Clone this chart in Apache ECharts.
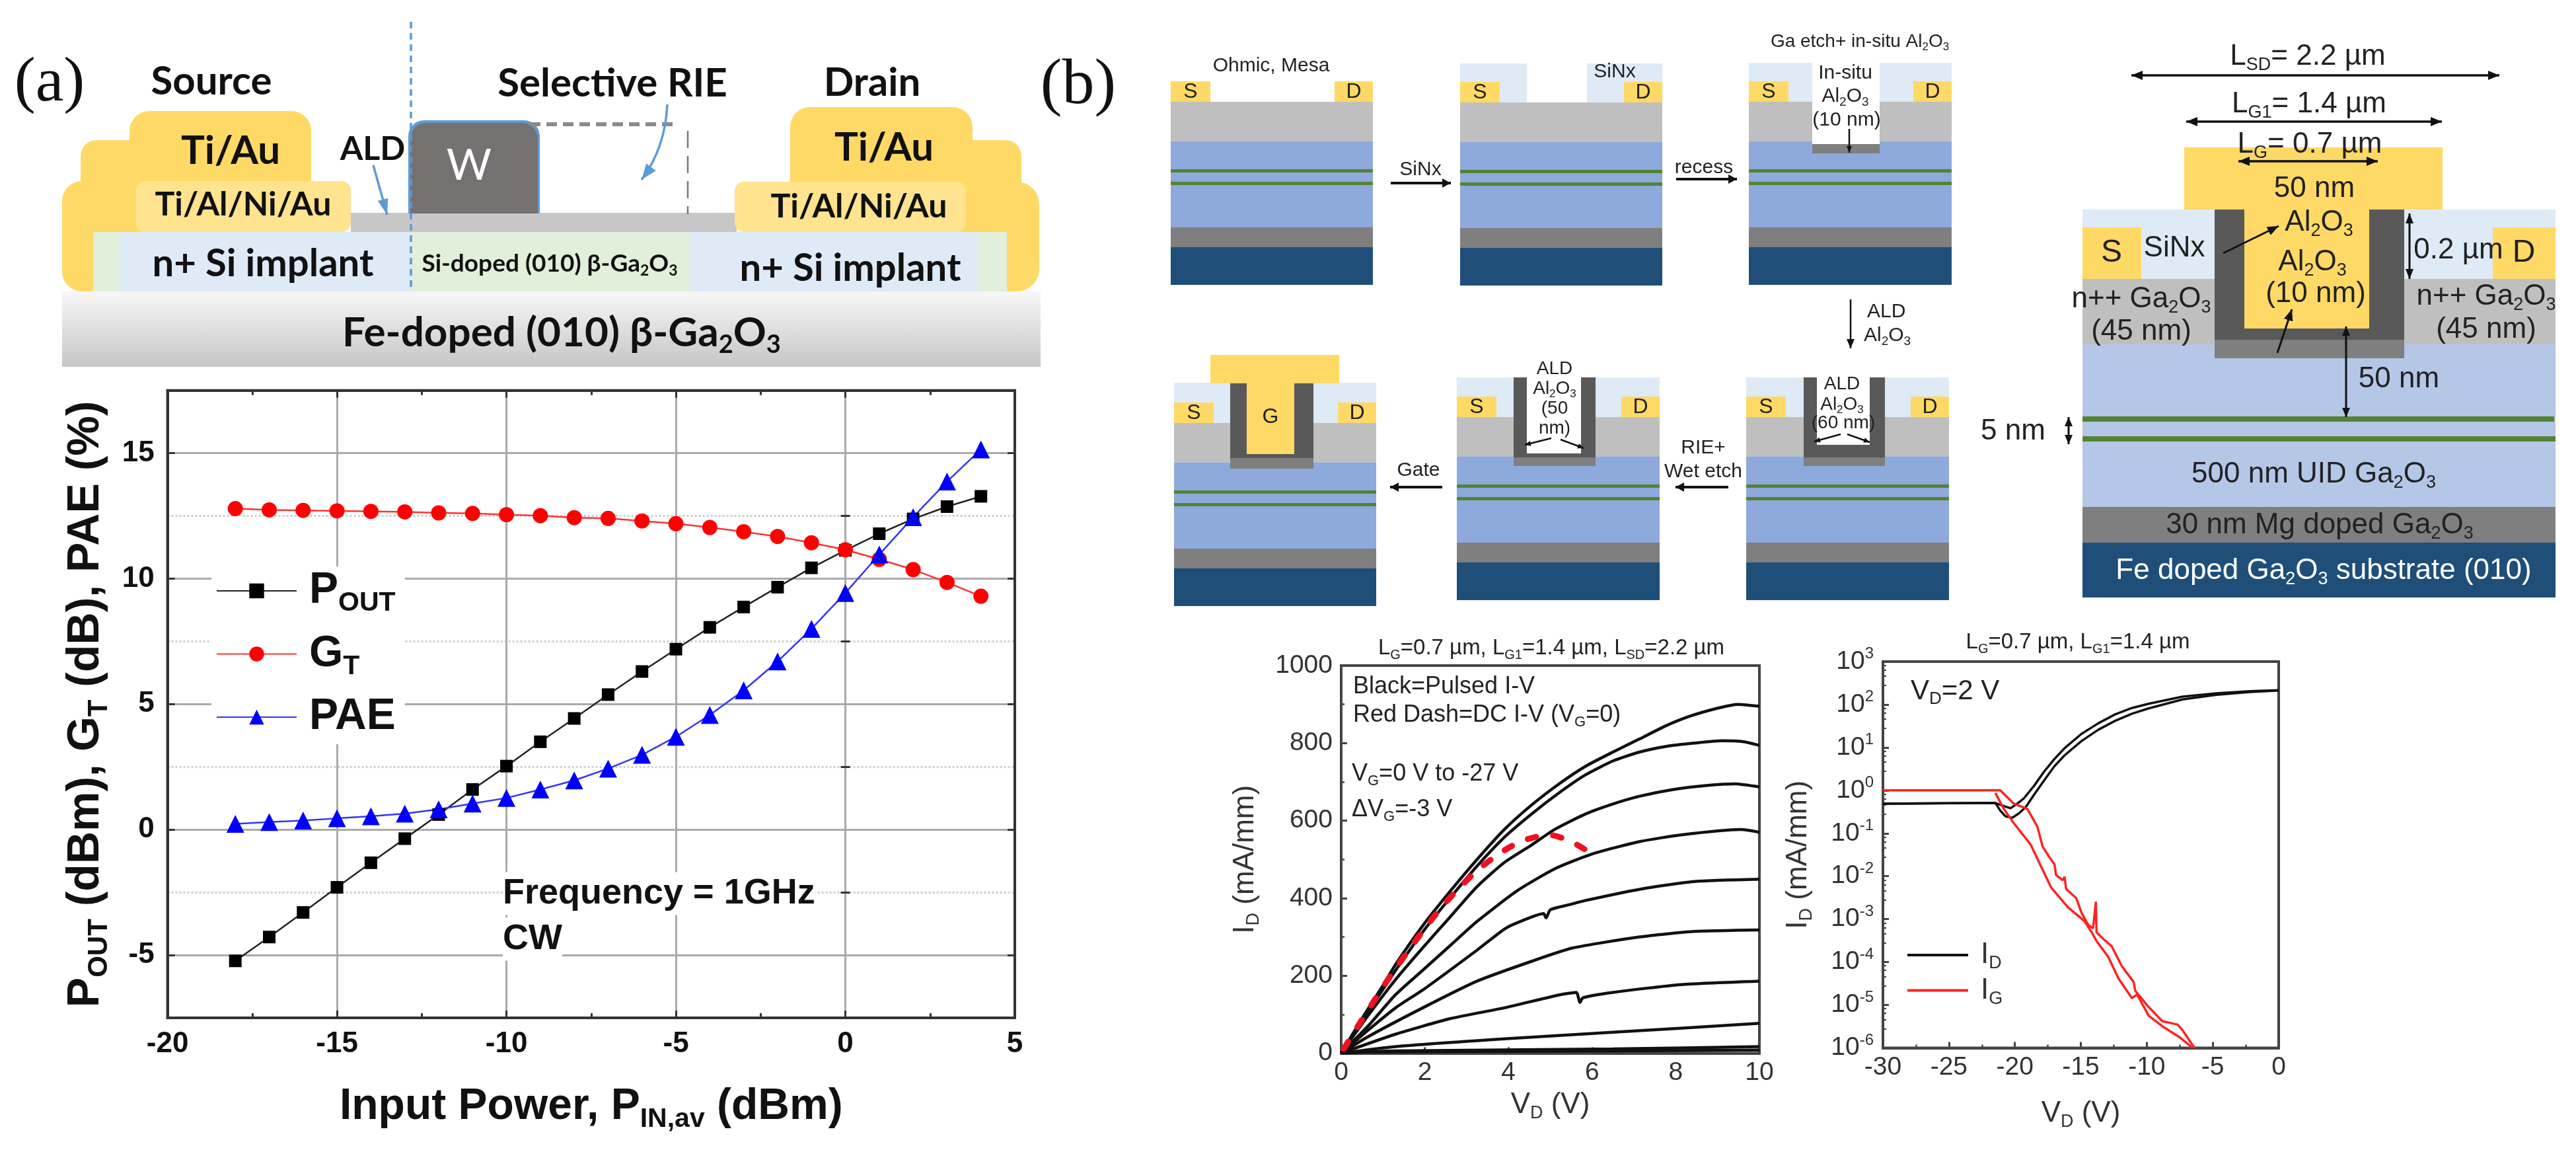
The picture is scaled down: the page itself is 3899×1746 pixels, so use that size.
<!DOCTYPE html>
<html><head><meta charset="utf-8">
<style>html,body{margin:0;padding:0;background:#fff}#c{width:3899px;height:1746px}</style>
<script src="https://cdn.jsdelivr.net/npm/echarts@6/dist/echarts.min.js"></script>
</head><body><div id="c"></div>
<script>
// ---- panel (a) power sweep ----
const pIn  = [-18,-17,-16,-15,-14,-13,-12,-11,-10,-9,-8,-7,-6,-5,-4,-3,-2,-1,0,1,2,3,4];
const pOut = [-5.23,-4.28,-3.3,-2.3,-1.32,-0.36,0.6,1.6,2.53,3.5,4.43,5.38,6.3,7.19,8.06,8.87,9.66,10.43,11.13,11.79,12.38,12.87,13.28];
const gT   = [12.79,12.74,12.72,12.7,12.68,12.66,12.62,12.6,12.55,12.51,12.43,12.4,12.3,12.19,12.04,11.87,11.68,11.43,11.15,10.77,10.36,9.85,9.3];
const pae  = [0.23,0.3,0.36,0.45,0.53,0.64,0.81,1.04,1.26,1.6,1.96,2.43,2.98,3.7,4.57,5.55,6.7,8.0,9.43,10.96,12.45,13.87,15.15];
const majorTicksA = [-5,0,5,10,15];
const minorTicksA = [-2.5,2.5,7.5,12.5];

// ---- panel (b) output curves [VD, ID] ----
const vg0  = [[0,0],[0.5,90],[1,175],[1.3,229],[1.95,329],[2.6,417],[3.25,500],[3.9,577],[4.55,640],[5.2,694],[5.84,740],[6.5,777],[7.14,811],[7.73,843],[8.3,868],[9,890],[9.5,900],[10,895]];
const vg3  = [[0,0],[0.5,84],[1,165],[1.36,223],[2,320],[2.6,400],[3.25,483],[3.9,557],[4.55,617],[5.2,671],[5.84,718],[6.5,754],[7.14,777],[7.8,792],[8.44,800],[9.1,806],[9.6,804],[10,794]];
const vg6  = [[0,0],[0.65,98],[1.3,190],[1.95,272],[2.6,351],[3.25,430],[3.9,492],[4.55,537],[5.1,577],[5.84,617],[6.5,643],[7.14,663],[7.92,680],[8.77,691],[9.42,695],[10,687]];
const vg9  = [[0,0],[0.65,71],[1.3,151],[1.95,214],[2.6,277],[3.25,340],[4.22,420],[5.13,477],[6,514],[7.14,546],[8.12,563],[9.55,577],[10,570]];
const vg12 = [[0,0],[0.65,60],[1.3,117],[1.95,163],[2.6,214],[3.25,266],[3.9,320],[4.22,337],[4.84,360],[4.9,349],[5,370],[5.45,383],[5.84,394],[7.14,423],[8.44,443],[10,449]];
const vg15 = [[0,0],[0.65,43],[1.95,117],[3.25,186],[4.55,237],[5.52,271],[7.14,300],[8.44,314],[10,318]];
const vg18 = [[0,0],[1.3,49],[2.6,89],[3.9,117],[5.2,150],[5.62,157],[5.71,131],[5.78,143],[6.5,157],[8.12,177],[10,186]];
const vg21 = [[0,0],[1.3,17],[3.9,37],[6.5,54],[10,77]];
const vg24 = [[0,0],[1.3,6],[6.5,11],[10,17]];
const vg27 = [[0,0],[0.5,3],[5,5],[10,8]];
const outputCurves = [vg0,vg3,vg6,vg9,vg12,vg15,vg18,vg21,vg24,vg27];
const dcVg0 = [[0.06,11],[0.36,63],[0.68,117],[1,171],[1.35,226],[1.69,277],[2.05,329],[2.42,379],[2.82,426],[3.25,471],[3.77,514],[4.32,547],[4.97,563],[5.49,546],[6,514]];

// ---- panel (b) transfer curves [VG, I] ----
const idFwd = [[-30,0.49],[-21.48,0.51],[-20.97,0.447],[-20.33,0.384],[-19.82,0.49],[-19.31,0.655],[-18.54,1.28],[-17.78,2.75],[-17,5.38],[-16.24,9.55],[-14.96,20.6],[-13.68,36.5],[-12.4,58.9],[-11.13,83],[-9.85,104.5],[-7.29,153],[-4.73,182],[-2.17,204],[0,216]];
const idRev = [[-30,0.49],[-21.48,0.51],[-21.1,0.335],[-20.72,0.25],[-20.2,0.229],[-19.69,0.293],[-19.18,0.406],[-18.54,0.794],[-17.78,1.71],[-17,3.66],[-16.24,6.5],[-14.96,14],[-13.68,25.8],[-12.4,41.7],[-11.13,61],[-9.85,81.4],[-7.29,131.5],[-4.73,169],[-2.17,196],[0,212]];
const igFwd = [[-30,1],[-21.48,1],[-21.1,1],[-20.08,0.49],[-19.05,0.37],[-18.29,0.142],[-17.9,0.0495],[-17.39,0.0279],[-17,0.019],[-16.88,0.0107],[-16.37,0.00804],[-16.24,0.00977],[-16.11,0.005],[-15.35,0.0031],[-14.96,0.00144],[-14.45,0.00074],[-14.07,0.00061],[-13.86,0.00255],[-13.81,0.0005],[-13.43,0.000376],[-12.66,0.000233],[-11.9,0.0000813],[-11,0.0000345],[-10.87,0.0000213],[-9.85,0.0000089],[-8.82,0.0000042],[-7.67,0.0000035],[-7.29,0.0000026],[-6.39,0.000001]];
const igRev = [[-21.48,0.875],[-20.84,0.37],[-20.08,0.172],[-18.8,0.0545],[-18.03,0.0173],[-17.26,0.0055],[-15.98,0.0019],[-14.71,0.00089],[-14.19,0.0005],[-13.81,0.00031],[-12.92,0.000132],[-12.15,0.0000417],[-11.13,0.0000145],[-10.74,0.0000176],[-9.85,0.0000056],[-8.82,0.0000032],[-7.54,0.0000018],[-6.52,0.000001]];

// ---- drawing helpers for the schematic parts ----
const SANS='"Liberation Sans",Arial,sans-serif', CAL='Lato,"Open Sans",sans-serif', SERIF='"Liberation Serif",serif';
const GOLD='#FFD966', PALE='#FFE38F', SINX='#DEEAF6', GREY='#BFBFBF', BLUE='#8EA9DB', LBLUE='#B4C7E7', GREEN='#548235', MID='#7F7F7F', NAVY='#1F4E79', DARK='#595959';
const G=[];
function rect(x0,y0,x1,y1,fill,r,z){G.push({type:'rect',z:z||10,shape:{x:x0,y:y0,width:x1-x0,height:y1-y0,r:r||0},style:{fill}});}
function richOf(str,size,o){
  o=o||{};
  const parts=str.split('~');let t='';
  parts.forEach((p,i)=>{if(p!=='')t+='{'+(i%2?'s':'n')+'|'+p+'}';});
  const base={fontFamily:o.family||SANS,fontWeight:o.weight||'normal',fill:o.color||'#222'};
  return {text:t,rich:{
    n:{...base,fontSize:size,lineHeight:Math.round(size*1.2)},
    s:{...base,fontSize:Math.round(size*0.62),lineHeight:Math.round(size*0.62),verticalAlign:'bottom'}}};
}
function tx(x,y,str,size,o){
  o=o||{};const r=richOf(str,size,o);
  const style={x,y,text:r.text,rich:r.rich,align:o.align||'center',verticalAlign:'middle',fill:o.color||'#222'};
  if(o.bg){style.backgroundColor=o.bg;}
  G.push({type:'text',z:o.z||30,style});
}
function line(x0,y0,x1,y1,color,w,dash){G.push({type:'line',z:20,shape:{x1:x0,y1:y0,x2:x1,y2:y1},style:{stroke:color,lineWidth:w,lineDash:dash||null}});}
function head(x,y,ang,color,len,wid){
  const c=Math.cos(ang),s=Math.sin(ang);
  G.push({type:'polygon',z:21,shape:{points:[[x,y],[x-len*c-wid*s,y-len*s+wid*c],[x-len*c+wid*s,y-len*s-wid*c]]},style:{fill:color}});
}
function arrow(x0,y0,x1,y1,o){
  o=o||{};const color=o.color||'#111',w=o.w||3,len=o.len||13,wid=o.wid||6;
  line(x0,y0,x1,y1,color,w);
  const a=Math.atan2(y1-y0,x1-x0);
  head(x1,y1,a,color,len,wid);
  if(o.both)head(x0,y0,a+Math.PI,color,len,wid);
}
function stack(x0,x1,y0){
  rect(x0,y0,x1,y0+59.5,GREY);
  rect(x0,y0+59.5,x1,y0+190,BLUE);
  rect(x0,y0+102,x1,y0+107,GREEN);
  rect(x0,y0+121,x1,y0+126,GREEN);
  rect(x0,y0+190,x1,y0+220,MID);
  rect(x0,y0+220,x1,y0+277,NAVY);
}
function sd(x0,x1,y0){
  rect(x0,y0-31,x0+60,y0,GOLD);rect(x1-58,y0-31,x1,y0,GOLD);
  tx(x0+30,y0-15,'S',32);tx(x1-29,y0-15,'D',32);
}

// (a) device cross-section
tx(75,127,'(a)',96,{family:SERIF,color:'#111'});
tx(1632,130,'(b)',98,{family:SERIF,color:'#111'});
const B={family:CAL,weight:'bold',color:'#111'};
rect(196,168,471,290,GOLD,[30,30,0,0]);
rect(122,212,260,290,GOLD,[24,0,0,0]);
rect(94,274,230,441,GOLD,[30,0,0,30]);
rect(1196,162,1472,290,GOLD,[30,30,0,0]);
rect(1400,212,1546,290,GOLD,[0,24,0,0]);
rect(1440,275,1573,441,GOLD,[0,34,34,0]);
rect(531,322,1115,351,'#C9C6C7');
rect(206,274,531,351,PALE,14);
rect(1112,275,1462,351,PALE,14);
rect(141,351,1524,441,'#E2EFDA');
rect(182,351,622,441,SINX);
rect(1045,351,1481,441,SINX);
G.push({type:'rect',z:10,shape:{x:94,y:441,width:1481,height:114},style:{fill:{type:'linear',x:0,y:0,x2:0,y2:1,colorStops:[{offset:0,color:'#f7f7f7'},{offset:1,color:'#c6c6c6'}]}}});
rect(618,182,817,323,'#5B9BD5',[24,24,0,0],11);
rect(621,186,814,323,'#767171',[24,24,0,0],12);
tx(710,251,'W',66,{family:CAL,color:'#fff'});
line(802,188,1024,188,'#8a8a8a',6,[16,9]);
line(1041,198,1041,324,'#777',2.5,[26,12]);
line(622,33,622,441,'#5B9BD5',3.5,[10,7]);
tx(320,124,'Source',60,B);tx(927,127,'Selective RIE',60,B);tx(1320,126,'Drain',60,B);
tx(349,229,'Ti/Au',60,B);tx(1338,224,'Ti/Au',60,B);
tx(368,310,'Ti/Al/Ni/Au',50,B);tx(1300,313,'Ti/Al/Ni/Au',50,B);
tx(398,399,'n+ Si implant',58,B);tx(1287,406,'n+ Si implant',58,B);
tx(832,399,'Si-doped (010) β-Ga~2~O~3~',37,B);
tx(850,504,'Fe-doped (010) β-Ga~2~O~3~',62,B);
tx(564,226,'ALD',50,B);
arrow(565,250,586,325,{color:'#5B9BD5',w:3.5,len:24,wid:8});
G.push({type:'bezierCurve',z:20,shape:{x1:1010,y1:158,x2:971,y2:272,cpx1:1008,cpy1:200,cpx2:995,cpy2:240},style:{stroke:'#5B9BD5',lineWidth:3.5,fill:'none'}});
head(971,272,Math.atan2(32,-24),'#5B9BD5',24,9);

// (b) process flow, row 1
stack(1772,2078,154);sd(1772,2078,154);
tx(1924,100,'Ohmic, Mesa',30);
stack(2210,2516,155);
rect(2210,96,2311,155,SINX);rect(2402,96,2516,155,SINX);sd(2210,2516,155);
tx(2444,109,'SiNx',30);
stack(2647,2954,154);
rect(2647,95,2743,154,SINX);rect(2845,95,2954,154,SINX);
rect(2743,154,2845,218,'#fff');rect(2743,218,2845,232,MID);sd(2647,2954,154);
tx(2793,111,'In-situ',30);tx(2793,146,'Al~2~O~3~',30);tx(2795,182,'(10 nm)',30);
arrow(2799,195,2799,231,{w:2.5,len:10,wid:4});
tx(2815,63,'Ga etch+ in-situ Al~2~O~3~',28);
arrow(2105,277,2196,277,{w:4,wid:7});tx(2150,257,'SiNx',30);
arrow(2537,271,2629,271,{w:4,wid:7});tx(2579,254,'recess',30);
arrow(2801,453,2801,527,{w:2.5,len:14,wid:6});
tx(2826,472,'ALD',30,{align:'left'});tx(2821,508,'Al~2~O~3~',30,{align:'left'});

// (b) process flow, row 2
stack(1777,2083,640);
rect(1777,579,2083,640,SINX);sd(1777,2083,640);
rect(1862,580,1988,693,DARK);rect(1862,693,1988,709,MID);
rect(1832,537,2027,580,GOLD);rect(1887,580,1959,687,GOLD);
tx(1923,631,'G',32);
arrow(2183,737,2104,737,{w:4,wid:7});tx(2147,712,'Gate',30);
stack(2205,2512,631);
rect(2205,571,2512,631,SINX);sd(2205,2512,631);
rect(2291,571,2415,692,DARK);rect(2291,692,2415,705,MID);rect(2311,571,2393,686,'#fff');
tx(2353,558,'ALD',28);tx(2353,588,'Al~2~O~3~',28);tx(2353,618,'(50',28);tx(2353,648,'nm)',28);
arrow(2348,663,2308,673,{w:2.5,len:9,wid:4});arrow(2362,665,2397,678,{w:2.5,len:9,wid:4});
tx(2578,678,'RIE+',30);tx(2578,714,'Wet etch',30);
arrow(2616,737,2536,737,{w:4,wid:7});
stack(2643,2950,631);
rect(2643,571,2950,631,SINX);sd(2643,2950,631);
rect(2730,571,2853,692,DARK);rect(2730,692,2853,705,MID);rect(2750,571,2830,673,'#fff');
tx(2788,581,'ALD',28);tx(2788,612,'Al~2~O~3~',28);tx(2790,640,'(60 nm)',28);
arrow(2786,657,2746,668,{w:2.5,len:9,wid:4});arrow(2796,657,2830,669,{w:2.5,len:9,wid:4});

// (b) large device
rect(3152,317,3868,422,SINX);
rect(3152,344,3241,422,GOLD);rect(3773,344,3868,422,GOLD);
rect(3152,422,3868,521,GREY);
rect(3152,521,3868,767,LBLUE);
rect(3152,630,3866,638,GREEN);rect(3152,660,3868,668,GREEN);
rect(3152,767,3868,821,MID);
rect(3152,821,3868,904,NAVY);
rect(3352,317,3639,514,DARK);rect(3352,514,3639,542,MID);
rect(3306,223,3697,317,GOLD);rect(3397,317,3586,497,GOLD);
const F=44;
tx(3493,86,'L~SD~= 2.2 µm',F);arrow(3226,114,3783,114,{both:1,w:3.5,len:17,wid:7});
tx(3495,158,'L~G1~= 1.4 µm',F);arrow(3309,184,3696,184,{both:1,w:3.5,len:17,wid:7});
tx(3496,219,'L~G~= 0.7 µm',F);arrow(3388,244,3599,244,{both:1,w:3.5,len:17,wid:7});
tx(3503,286,'50 nm',F);tx(3510,337,'Al~2~O~3~',F);tx(3500,397,'Al~2~O~3~',F);tx(3505,445,'(10 nm)',F);
tx(3291,376,'SiNx',F);tx(3196,383,'S',F+4);tx(3820,383,'D',F+4);
tx(3721,379,'0.2 µm',F);arrow(3647,323,3647,422,{both:1,w:3,len:15,wid:6});
tx(3241,453,'n++ Ga~2~O~3~',F);tx(3241,502,'(45 nm)',F);tx(3763,449,'n++ Ga~2~O~3~',F);tx(3763,499,'(45 nm)',F);
arrow(3365,383,3449,342,{w:3,len:17,wid:7});arrow(3447,534,3469,468,{w:3,len:17,wid:7});
arrow(3551,494,3551,631,{both:1,w:3,len:14,wid:6});tx(3631,574,'50 nm',F);
tx(3047,653,'5 nm',F);arrow(3131,631,3131,672,{both:1,w:3,len:14,wid:6});
tx(3502,718,'500 nm UID Ga~2~O~3~',F);tx(3511,795,'30 nm Mg doped Ga~2~O~3~',F);
tx(3517,864,'Fe doped Ga~2~O~3~ substrate (010)',F,{color:'#fff'});

// plot annotations
tx(761,1352,'Frequency = 1GHz',54,{align:'left',weight:'bold',color:'#111',bg:'#fff'});
tx(761,1421,'CW',54,{align:'left',weight:'bold',color:'#111',bg:'#fff'});
tx(2348,981,'L~G~=0.7 µm, L~G1~=1.4 µm, L~SD~=2.2 µm',33);
tx(2048,1039,'Black=Pulsed I-V',36,{align:'left'});
tx(2048,1082,'Red Dash=DC I-V (V~G~=0)',36,{align:'left'});
tx(2046,1171,'V~G~=0 V to -27 V',36,{align:'left'});
tx(2046,1225,'ΔV~G~=-3 V',36,{align:'left'});
tx(3145,972,'L~G~=0.7 µm, L~G1~=1.4 µm',33);
tx(2892,1046,'V~D~=2 V',42,{align:'left'});

// ---- chart ----
function nameRich(size,weight,color){
  return {n:{fontSize:size,fontWeight:weight,fontFamily:SANS,color,lineHeight:Math.round(size*1.2)},
          s:{fontSize:Math.round(size*0.62),fontWeight:weight,fontFamily:SANS,color,lineHeight:Math.round(size*0.62),verticalAlign:'bottom'},
          g:{width:14}};
}
const supRich={b:{fontSize:39,fontFamily:SANS,color:'#333',lineHeight:47},sup:{fontSize:24,fontFamily:SANS,color:'#333',lineHeight:24,verticalAlign:'top'}};
const gridA={left:253.6,top:590.7,width:1282.4,height:949.3,show:true,borderColor:'#333',borderWidth:4};
const gridB={left:2030,top:1007,width:633,height:586.5,show:true,borderColor:'#444',borderWidth:4};
const gridC={left:2850,top:1001,width:599,height:584.5,show:true,borderColor:'#444',borderWidth:4};
const axA={onZero:false,lineStyle:{color:'#333',width:4}};
const axB={onZero:false,lineStyle:{color:'#444',width:4}};
const lblA={color:'#111',fontSize:44,fontWeight:'bold',fontFamily:SANS};
const lblB={color:'#333',fontSize:39,fontFamily:SANS};
const tickA={inside:true,length:11,lineStyle:{color:'#333',width:3}};
const minorA={show:true,splitNumber:2,length:7,lineStyle:{color:'#333',width:3}};
const tickB={inside:true,length:9,lineStyle:{color:'#444',width:3}};
const minorB={show:true,splitNumber:2,length:5,lineStyle:{color:'#444',width:2.5}};

const xAxis=[
 {gridIndex:0,type:'value',min:-20,max:5,interval:5,axisLine:axA,axisTick:tickA,minorTick:minorA,
  axisLabel:{...lblA,margin:18},splitLine:{show:true,lineStyle:{color:'#aaa',width:3}},
  name:'{n|Input Power, P}{s|IN,av}{n| (dBm)}',nameLocation:'middle',nameGap:95,nameTextStyle:{rich:nameRich(66,'bold','#111')}},
 {gridIndex:0,type:'value',position:'top',min:-20,max:5,interval:5,axisLine:axA,axisTick:tickA,minorTick:minorA,axisLabel:{show:false},splitLine:{show:false}},
 {gridIndex:1,type:'value',min:0,max:10,interval:2,axisLine:axB,axisTick:tickB,
  axisLabel:{...lblB,margin:10},splitLine:{show:false},
  name:'{n|V}{s|D}{n| (V)}',nameLocation:'middle',nameGap:52,nameTextStyle:{rich:nameRich(44,'normal','#333')}},
 {gridIndex:2,type:'value',min:-30,max:0,interval:5,axisLine:axB,axisTick:tickB,minorTick:minorB,
  axisLabel:{...lblB,margin:10},splitLine:{show:false},
  name:'{n|V}{s|D}{n| (V)}',nameLocation:'middle',nameGap:73,nameTextStyle:{rich:nameRich(44,'normal','#333')}}
];
const yAxis=[
 {gridIndex:0,type:'value',min:-7.5,max:17.5,axisLine:axA,axisTick:{...tickA,customValues:majorTicksA},
  axisLabel:{...lblA,margin:20,customValues:majorTicksA},
  splitLine:{show:true,lineStyle:{color:'#aaa',width:3}},
  name:'{n|P}{s|OUT}{n| (dBm), G}{s|T}{n| (dB), PAE (%)}',nameLocation:'middle',nameGap:82,nameTextStyle:{rich:nameRich(68,'bold','#111')}},
 {gridIndex:0,type:'value',position:'right',min:-7.5,max:17.5,axisLine:axA,axisTick:{...tickA,customValues:majorTicksA},axisLabel:{show:false},splitLine:{show:false}},
 {gridIndex:1,type:'value',min:0,max:1000,interval:200,axisLine:axB,axisTick:tickB,minorTick:minorB,
  axisLabel:{...lblB,margin:13,formatter:v=>String(v)},splitLine:{show:false},
  name:'{n|I}{s|D}{n| (mA/mm)}',nameLocation:'middle',nameGap:119,nameTextStyle:{rich:nameRich(44,'normal','#333')}},
 {gridIndex:2,type:'log',logBase:10,min:1e-6,max:1e3,interval:1,axisLine:{show:true,...axB},axisTick:{inside:true,length:9,lineStyle:{color:'#444',width:3}},
  minorTick:{show:true,splitNumber:5,length:5,lineStyle:{color:'#444',width:2}},
  axisLabel:{margin:14,rich:supRich,formatter:v=>'{b|10}{sup|'+Math.round(Math.log10(v))+'}'},splitLine:{show:false},
  name:'{n|I}{s|D}{n| (mA/mm)}',nameLocation:'middle',nameGap:102,nameTextStyle:{rich:nameRich(44,'normal','#333')}},
 // half-step grid of panel (a): short ticks on both sides and light dotted lines
 {gridIndex:0,type:'value',position:'left',min:-7.5,max:17.5,axisLine:{show:false},axisLabel:{show:false},
  axisTick:{inside:true,length:7,lineStyle:{color:'#333',width:3},customValues:minorTicksA},
  splitLine:{show:true,lineStyle:{color:'#cfcfcf',width:3,type:'dotted'}}},
 {gridIndex:0,type:'value',position:'right',min:-7.5,max:17.5,axisLine:{show:false},axisLabel:{show:false},
  axisTick:{inside:true,length:7,lineStyle:{color:'#333',width:3},customValues:minorTicksA},splitLine:{show:false}}
];
const pair=(xs,ys)=>xs.map((x,i)=>[x,ys[i]]);
const lineA=(name,ys,sym,size,col,lcol)=>({name,type:'line',xAxisIndex:0,yAxisIndex:0,data:pair(pIn,ys),symbol:sym,symbolSize:size,showAllSymbol:true,
  itemStyle:{color:col},lineStyle:{color:lcol,width:2.5},z:3});
const series=[
 lineA('POUT',pOut,'rect',19,'#000','#222'),
 lineA('GT',gT,'circle',23,'#f00','#f33'),
 lineA('PAE',pae,'triangle',27,'#00f','#33f'),
 ...outputCurves.map((d,i)=>({name:'VG=-'+(3*i)+' V',type:'line',xAxisIndex:2,yAxisIndex:2,data:d,symbol:'none',smooth:0.2,lineStyle:{color:'#111',width:4.5},itemStyle:{color:'#111'}})),
 {name:'DC VG=0',type:'line',xAxisIndex:2,yAxisIndex:2,data:dcVg0,symbol:'none',smooth:0.3,z:5,lineStyle:{color:'#f01020',width:9,type:[13,26],cap:'round'},itemStyle:{color:'#f01020'}},
 {name:'ID',type:'line',xAxisIndex:3,yAxisIndex:3,data:idFwd,symbol:'none',lineStyle:{color:'#111',width:3.5},itemStyle:{color:'#111'}},
 {name:'ID',type:'line',xAxisIndex:3,yAxisIndex:3,data:idRev,symbol:'none',lineStyle:{color:'#111',width:3.5},itemStyle:{color:'#111'}},
 {name:'IG',type:'line',xAxisIndex:3,yAxisIndex:3,data:igFwd,symbol:'none',z:4,lineStyle:{color:'#f22',width:3.5},itemStyle:{color:'#f22'}},
 {name:'IG',type:'line',xAxisIndex:3,yAxisIndex:3,data:igRev,symbol:'none',z:4,lineStyle:{color:'#f22',width:3.5},itemStyle:{color:'#f22'}}
];
const subName=s=>'{g|}{n|'+s[0]+'}{s|'+s.slice(1)+'}';
const legend=[
 {data:['POUT','GT','PAE'],orient:'vertical',left:320,top:857,padding:[4,14,8,7],backgroundColor:'#fff',itemWidth:121,itemHeight:28,itemGap:23,
  formatter:n=>n==='PAE'?'{g|}{n|PAE}':subName(n),
  textStyle:{rich:nameRich(66,'bold','#111')}},
 {data:[{name:'ID',icon:'rect'},{name:'IG',icon:'rect'}],orient:'vertical',left:2887,top:1423,padding:0,itemWidth:92,itemHeight:4,itemGap:5,
  formatter:subName,
  textStyle:{rich:nameRich(44,'normal','#333')}}
];
const chart=echarts.init(document.getElementById('c'),null,{renderer:'canvas'});
chart.setOption({animation:false,backgroundColor:'#fff',grid:[gridA,gridB,gridC],xAxis,yAxis,series,legend,graphic:{elements:G}});
</script></body></html>
